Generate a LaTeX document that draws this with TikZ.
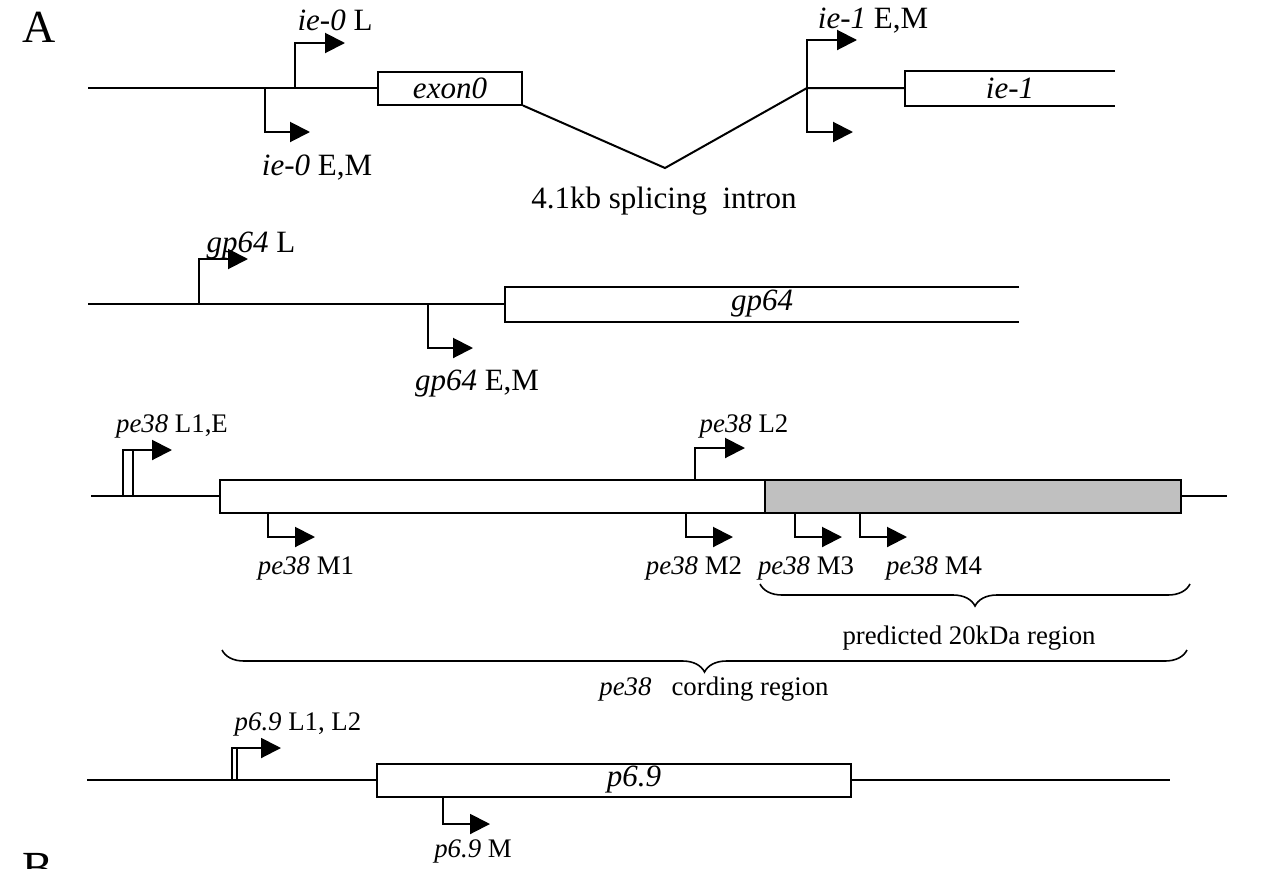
\documentclass[tikz,border=0pt]{standalone}
\usepackage{fontspec}
\setmainfont{Liberation Serif}
\usetikzlibrary{arrows.meta,decorations.pathreplacing}
\definecolor{ctermgray}{RGB}{192,192,192}

\tikzset{
  dna/.style={line width=1pt},
  genebox/.style={line width=1pt,inner sep=0pt,minimum height=16.5pt,anchor=west,font=\fontsize{15.5}{18}\selectfont\itshape},
  promoter/.style={line width=1pt,-{Triangle[length=10pt,width=10pt]}},
  biglab/.style={font=\fontsize{15.5}{18}\selectfont,inner sep=0pt,anchor=base},
  smalllab/.style={font=\fontsize{13.4}{16}\selectfont,inner sep=0pt,anchor=base},
  region/.style={decorate,decoration={brace,amplitude=11pt,mirror},line width=0.8pt}
}

\begin{document}
\begin{tikzpicture}[x=0.5pt,y=-0.5pt]

\useasboundingbox (0,0) rectangle (1273,868);

% Panel letters
\node[font=\fontsize{23}{26}\selectfont,inner sep=0pt,anchor=base west] (panA) at (22,42) {A};
\node[font=\fontsize{23}{26}\selectfont,inner sep=0pt,anchor=base west] (panB) at (22,883) {B};

% ie-0 / ie-1
\coordinate (ieStart) at (88,88);
\node[genebox,draw,minimum width=72pt] (exon0) at (377,88) {exon0};
\coordinate (intron) at (665,168);
\coordinate (ie1p) at (807,88);
\node[genebox,minimum width=104pt] (ie1) at (905,88) {ie-1};
\draw[dna] (ieStart) -- (exon0.west);
\draw[dna] (exon0.south east) -- (intron) -- (ie1p) -- (ie1.west);
\draw[dna] (ie1.north east) -- (ie1.north west) -- (ie1.south west) -- (ie1.south east);

\coordinate (ie0L) at (295,88);
\coordinate (ie0Ltip) at (345,43);
\coordinate (ie0E) at (265,88);
\coordinate (ie0Etip) at (310,132);
\coordinate (ie1Etip) at (857,40);
\coordinate (ie1Dtip) at (853,132);
\draw[promoter] (ie0L) |- (ie0Ltip);
\draw[promoter] (ie0E) |- (ie0Etip);
\draw[promoter] (ie1p) |- (ie1Etip);
\draw[promoter] (ie1p) |- (ie1Dtip);

\node[biglab] (ie0Llab) at (335,30) {\textit{ie-0} L};
\node[biglab] (ie0Elab) at (317,175) {\textit{ie-0} E,M};
\node[biglab] (ie1lab) at (873,28) {\textit{ie-1} E,M};
\node[biglab] (intronlab) at (664,208) {4.1kb splicing\ \ intron};

% gp64
\coordinate (gpStart) at (88,304);
\node[genebox,minimum width=256pt] (gp64) at (505,304) {gp64};
\draw[dna] (gpStart) -- (gp64.west);
\draw[dna] (gp64.north east) -- (gp64.north west) -- (gp64.south west) -- (gp64.south east);

\coordinate (gpL) at (199,304);
\coordinate (gpLtip) at (248,259);
\coordinate (gpE) at (428,304);
\coordinate (gpEtip) at (473,348);
\draw[promoter] (gpL) |- (gpLtip);
\draw[promoter] (gpE) |- (gpEtip);

\node[biglab] (gpLlab) at (251,252) {\textit{gp64} L};
\node[biglab] (gpElab) at (477,390) {\textit{gp64} E,M};

% pe38
\coordinate (peStart) at (91,496);
\coordinate (peEnd) at (1227,496);
\node[genebox,draw,minimum width=272.5pt] (pe38) at (219,496) {};
\node[genebox,draw,fill=ctermgray,minimum width=208pt] (pe20) at (764,496) {};
\draw[dna] (peStart) -- (pe38.west);
\draw[dna] (pe20.east) -- (peEnd);

\coordinate (peL1) at (123,496);
\coordinate (peE) at (133,496);
\coordinate (peL1tip) at (172,450);
\draw[promoter] (peL1) |- (peL1tip);
\draw[dna] (peE) -- (peE |- peL1tip);
\coordinate (peL2tip) at (745,448);
\draw[promoter] (pe38.north -| 695,0) |- (peL2tip);
\draw[promoter] (pe38.south -| 268,0) |- (315,537) coordinate (peM1tip);
\draw[promoter] (pe38.south -| 686,0) |- (733,537) coordinate (peM2tip);
\draw[promoter] (pe20.south -| 795,0) |- (842,537) coordinate (peM3tip);
\draw[promoter] (pe20.south -| 860,0) |- (907,537) coordinate (peM4tip);

\node[smalllab] (peL1lab) at (172,432) {\textit{pe38} L1,E};
\node[smalllab] (peL2lab) at (744,432) {\textit{pe38} L2};
\node[smalllab] (peM1lab) at (306,574) {\textit{pe38} M1};
\node[smalllab] (peM2lab) at (694,574) {\textit{pe38} M2};
\node[smalllab] (peM3lab) at (806,574) {\textit{pe38} M3};
\node[smalllab] (peM4lab) at (934,574) {\textit{pe38} M4};

% braces
\coordinate (b20l) at (760,584);
\coordinate (b20r) at (1190,584);
\coordinate (bcdl) at (222,650);
\coordinate (bcdr) at (1187,650);
\draw[region] (b20l) -- (b20r);
\draw[region] (bcdl) -- (bcdr);
\node[smalllab] (b20lab) at (969,644) {predicted 20kDa region};
\node[smalllab] (bcdlab) at (714,695) {\textit{pe38}\ \ \ cording region};

% p6.9
\coordinate (p69Start) at (87,780);
\coordinate (p69End) at (1170,780);
\node[genebox,draw,minimum width=237pt] (p69) at (376,780) {\hspace*{20pt}p6.9};
\draw[dna] (p69Start) -- (p69.west);
\draw[dna] (p69.east) -- (p69End);

\coordinate (p69L1) at (232,780);
\coordinate (p69L2) at (237,780);
\coordinate (p69Ltip) at (281,748);
\draw[promoter] (p69L1) |- (p69Ltip);
\draw[dna] (p69L2) -- (p69L2 |- p69Ltip);
\draw[promoter] (p69.south -| 443,0) |- (490,824) coordinate (p69Mtip);

\node[smalllab] (p69Llab) at (298,730) {\textit{p6.9} L1, L2};
\node[smalllab] (p69Mlab) at (473,857) {\textit{p6.9} M};

\end{tikzpicture}
\end{document}
